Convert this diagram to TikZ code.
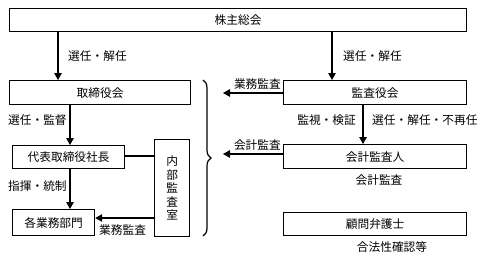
\documentclass[tikz,border=0pt]{standalone}
\usepackage{fontspec}
\setmainfont{Noto Sans CJK JP}
\usetikzlibrary{arrows.meta,decorations.pathreplacing}
\begin{document}
\begin{tikzpicture}[x=1pt,y=-1pt,
  box/.style={draw,line width=1.2pt,inner sep=0pt},
  lbl/.style={inner sep=0pt},
  con/.style={line width=1.2pt},
  arr/.style={line width=1.2pt,-{Triangle[length=7pt,width=7.5pt]}}]
\useasboundingbox (0,0) rectangle (487,257);
\tikzset{every node/.append style={font=\fontsize{11.7}{13}\selectfont}}
% boxes
\node[box,minimum width=457pt,minimum height=23pt,anchor=north west] (soukai) at (9,8) {株主総会};
\node[box,minimum width=181pt,minimum height=24pt,anchor=north west] (torishimari) at (9,80) {取締役会};
\node[box,minimum width=183pt,minimum height=24pt,anchor=north west] (kansayaku) at (283,80) {監査役会};
\node[box,minimum width=112pt,minimum height=23pt,anchor=north west] (daihyo) at (12,145) {代表取締役社長};
\node[box,minimum width=82pt,minimum height=26pt,anchor=north west] (kakubu) at (12,209) {各業務部門};
\node[box,minimum width=35pt,minimum height=97pt,anchor=north west,align=center,font=\fontsize{11.7}{13.5}\selectfont] (naibu) at (154,139) {内\\部\\監\\査\\室};
\node[box,minimum width=183pt,minimum height=24pt,anchor=north west] (kaikei) at (283,144) {会計監査人};
\node[box,minimum width=183pt,minimum height=23pt,anchor=north west] (komon) at (283,212) {顧問弁護士};
% brace
\coordinate (bt) at (203,80);
\coordinate (bb) at (203,236);
\draw[line width=1.2pt,decorate,decoration={brace,amplitude=8pt}] (bt) -- (bb);
\coordinate (ba1) at (223,93);
\coordinate (ba2) at (223,154);
% arrows
\draw[arr] (soukai.south -| 58,0) -- (torishimari.north -| 58,0);
\node[lbl,anchor=west] at (68,56) {選任・解任};
\draw[arr] (soukai.south -| 332,0) -- (kansayaku.north -| 332,0);
\node[lbl,anchor=west] at (343,56) {選任・解任};
\draw[arr] (kansayaku.west |- ba1) -- (ba1);
\node[lbl,anchor=south east] at (281,90) {業務監査};
\draw[arr] (kaikei.west |- ba2) -- (ba2);
\node[lbl,anchor=south east] at (281,151) {会計監査};
\draw[arr] (torishimari.south -| 70,0) -- (daihyo.north -| 70,0);
\node[lbl,anchor=west] at (8,120) {選任・監督};
\draw[arr] (daihyo.south -| 70,0) -- (kakubu.north -| 70,0);
\node[lbl,anchor=west] at (8,186) {指揮・統制};
\draw[con] (daihyo.east |- 0,156) -- (naibu.west |- 0,156);
\draw[arr] (naibu.west |- 0,218) -- (kakubu.east |- 0,218);
\node[lbl,anchor=west] at (99,230) {業務監査};
\draw[arr] (kansayaku.south -| 363,0) -- (kaikei.north -| 363,0);
\node[lbl,anchor=east] at (356,120) {監視・検証};
\node[lbl,anchor=west] at (372,120) {選任・解任・不再任};
\node[lbl] at (379,180) {会計監査};
\node[lbl] at (392,247) {合法性確認等};
\end{tikzpicture}
\end{document}
